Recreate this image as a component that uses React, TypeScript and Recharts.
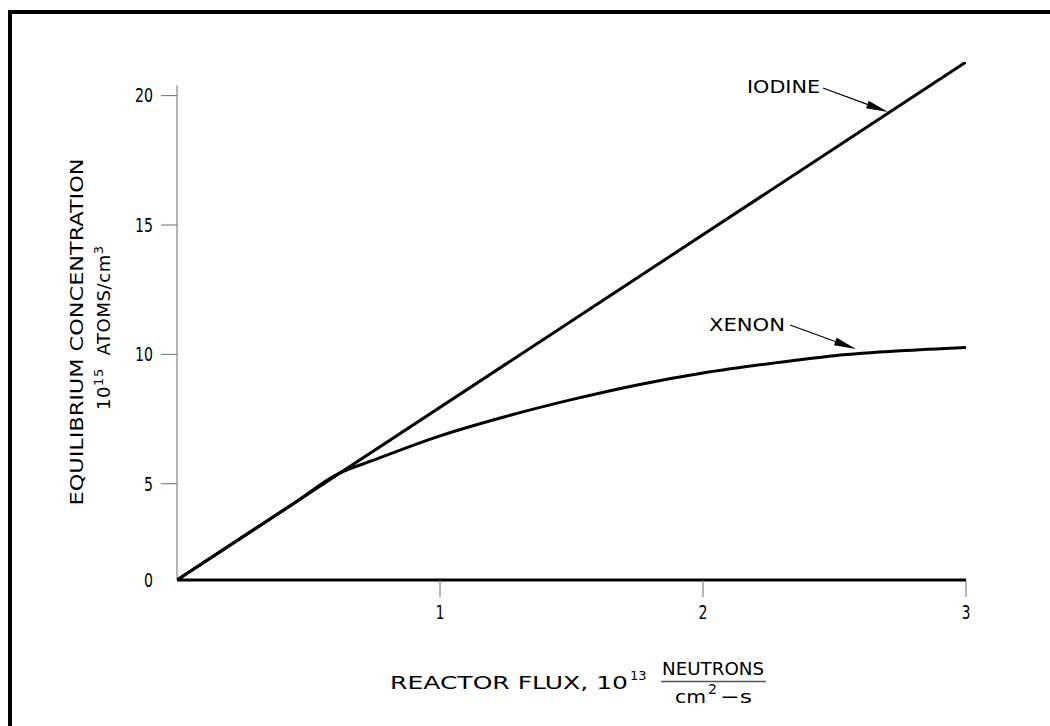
import { Line, LineChart, ReferenceLine, XAxis, YAxis } from "recharts";

const fluxTicks = [1, 2, 3];
const concTicks = [0, 5, 10, 15, 20];

const iodineFlux = [0, 3];
const iodineConc = [0, 21.3];

const xenonFlux = [0, 0.3, 0.45, 0.6, 0.75, 1.0, 1.25, 1.5, 1.75, 2.0, 2.25, 2.5, 2.75, 3.0];
const xenonConc = [0, 2.69, 4.03, 5.32, 5.92, 6.85, 7.6, 8.25, 8.82, 9.28, 9.64, 9.95, 10.14, 10.27];

const iodineData = iodineFlux.map((flux, i) => ({ flux, conc: iodineConc[i] }));
const xenonData = xenonFlux.map((flux, i) => ({ flux, conc: xenonConc[i] }));

const FONT = "'DejaVu Sans', sans-serif";
const GRAY = "#6e6e6e";

// the drawing squeezes the 0-5 band of the concentration axis
const BREAK = 5;
const SQUEEZE = 0.744;
const warp = (v: number) => (v <= BREAK ? v * SQUEEZE : BREAK * SQUEEZE + v - BREAK);
const unwarp = (w: number) => (w <= BREAK * SQUEEZE ? w / SQUEEZE : w - BREAK * SQUEEZE + BREAK);

function brokenScale(d: number[] = [0, 1], r: number[] = [0, 1]): any {
  let dom = d.slice();
  let rng = r.slice();
  const scale: any = (v: number) => {
    const a = warp(dom[0]);
    const b = warp(dom[dom.length - 1]);
    return rng[0] + ((warp(Number(v)) - a) / (b - a)) * (rng[rng.length - 1] - rng[0]);
  };
  scale.domain = (nd?: number[]) => {
    if (nd === undefined) return dom.slice();
    dom = nd.map(Number);
    return scale;
  };
  scale.range = (nr?: number[]) => {
    if (nr === undefined) return rng.slice();
    rng = nr.map(Number);
    return scale;
  };
  scale.invert = (p: number) => {
    const a = warp(dom[0]);
    const b = warp(dom[dom.length - 1]);
    return unwarp(a + ((p - rng[0]) / (rng[rng.length - 1] - rng[0])) * (b - a));
  };
  scale.ticks = () => concTicks;
  scale.copy = () => brokenScale(dom, rng);
  return scale;
}

function ConcTick(props: any) {
  const { x, y, payload } = props;
  const label = String(payload.value);
  return (
    <g>
      {payload.value !== 0 && (
        <line x1={x + 8} x2={x + 24} y1={y} y2={y} stroke={GRAY} strokeWidth={1} />
      )}
      <text
        x={x}
        y={y}
        dy="0.36em"
        textAnchor="end"
        fontFamily={FONT}
        fontSize={19}
        fill="#000"
        textLength={9 * label.length}
        lengthAdjust="spacingAndGlyphs"
      >
        {label}
      </text>
    </g>
  );
}

function FluxTick(props: any) {
  const { x, y, payload } = props;
  const label = String(payload.value);
  return (
    <text
      x={x}
      y={y}
      dy="0.71em"
      textAnchor="middle"
      fontFamily={FONT}
      fontSize={19}
      fill="#000"
      textLength={9 * label.length}
      lengthAdjust="spacingAndGlyphs"
    >
      {label}
    </text>
  );
}

function Arrow({ x1, y1, x2, y2 }: { x1: number; y1: number; x2: number; y2: number }) {
  const len = Math.hypot(x2 - x1, y2 - y1);
  const ux = (x2 - x1) / len;
  const uy = (y2 - y1) / len;
  const bx = x2 - ux * 22;
  const by = y2 - uy * 22;
  const w = 4;
  return (
    <g>
      <line x1={x1} y1={y1} x2={bx} y2={by} stroke="#000" strokeWidth={1.2} />
      <polygon
        points={`${x2},${y2} ${bx - uy * w},${by + ux * w} ${bx + uy * w},${by - ux * w}`}
        fill="#000"
      />
    </g>
  );
}

export default function App() {
  return (
    <div style={{ position: "fixed", left: 0, top: 0, width: 1050, height: 726, background: "#fff", overflow: "hidden" }}>
      <div
        style={{
          position: "absolute",
          left: 8,
          top: 10,
          width: 1100,
          height: 800,
          borderLeft: "4px solid #000",
          borderTop: "4px solid #000",
        }}
      />
      <div style={{ position: "absolute", left: 0, top: 0 }}>
        <LineChart width={1050} height={726} margin={{ top: 62, right: 84, bottom: 96, left: 107 }}>
          <XAxis
            dataKey="flux"
            type="number"
            domain={[0, 3]}
            ticks={fluxTicks}
            height={50}
            axisLine={{ stroke: "#000", strokeWidth: 3 }}
            tickLine={{ stroke: GRAY, strokeWidth: 1 }}
            tickSize={17}
            tickMargin={9}
            tick={<FluxTick />}
            allowDataOverflow
          />
          <YAxis
            dataKey="conc"
            type="number"
            domain={[0, 21.3]}
            ticks={concTicks}
            scale={brokenScale()}
            width={70}
            axisLine={false}
            tickLine={false}
            tickSize={16}
            tickMargin={8}
            tick={<ConcTick />}
            interval={0}
            allowDataOverflow
          />
          <ReferenceLine
            segment={[
              { x: 0, y: 0 },
              { x: 0, y: 20.4 },
            ]}
            stroke={GRAY}
            strokeWidth={1}
          />
          <Line
            data={iodineData}
            dataKey="conc"
            type="linear"
            stroke="#000"
            strokeWidth={3}
            dot={false}
            isAnimationActive={false}
          />
          <Line
            data={xenonData}
            dataKey="conc"
            type="monotone"
            stroke="#000"
            strokeWidth={3}
            dot={false}
            isAnimationActive={false}
          />
        </LineChart>
      </div>
      <svg width={1050} height={726} style={{ position: "absolute", left: 0, top: 0, pointerEvents: "none" }}>
        <g fontFamily={FONT} fill="#000">
          <text x={747} y={93} fontSize={18} textLength={73} lengthAdjust="spacingAndGlyphs">
            IODINE
          </text>
          <Arrow x1={823} y1={88} x2={888} y2={112} />
          <text x={709} y={331} fontSize={18} textLength={76} lengthAdjust="spacingAndGlyphs">
            XENON
          </text>
          <Arrow x1={790} y1={325} x2={856} y2={349} />

          <text
            x={76}
            y={332}
            transform="rotate(-90 76 332)"
            textAnchor="middle"
            dominantBaseline="central"
            fontSize={18}
            textLength={347}
            lengthAdjust="spacingAndGlyphs"
          >
            EQUILIBRIUM  CONCENTRATION
          </text>
          <text x={25} y={338.5} transform="rotate(-90 103 332)" fontSize={18} letterSpacing={0.6}>
            10
            <tspan dy={-7} fontSize={13}>
              15
            </tspan>
            <tspan dy={7}>{"\u00A0\u00A0ATOMS/cm"}</tspan>
            <tspan dy={-7} fontSize={13}>
              3
            </tspan>
          </text>

          <text x={390} y={689} fontSize={18} textLength={238} lengthAdjust="spacingAndGlyphs">
            REACTOR  FLUX,  10
          </text>
          <text x={630} y={680} fontSize={13}>
            13
          </text>
          <text x={662} y={675} fontSize={18} textLength={102} lengthAdjust="spacingAndGlyphs">
            NEUTRONS
          </text>
          <line x1={661} x2={766} y1={681.5} y2={681.5} stroke="#555" strokeWidth={1.5} />
          <text x={675} y={703} fontSize={18} textLength={31} lengthAdjust="spacingAndGlyphs">
            cm
          </text>
          <text x={708} y={694} fontSize={14}>
            2
          </text>
          <text x={720} y={703} fontSize={18} textLength={32} lengthAdjust="spacingAndGlyphs">
            {"\u2212s"}
          </text>
        </g>
      </svg>
    </div>
  );
}
